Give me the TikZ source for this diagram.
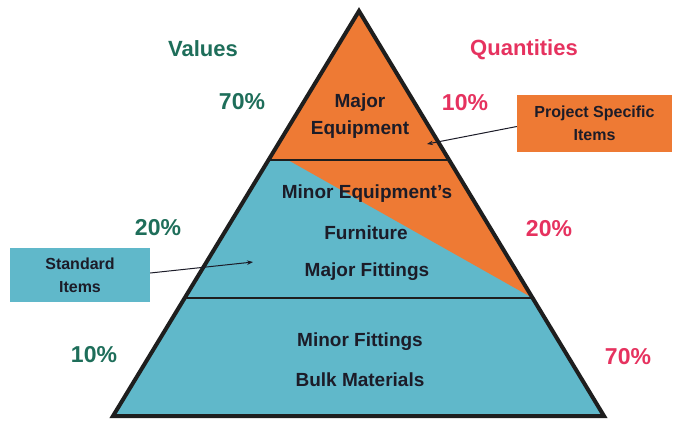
\documentclass[tikz,border=0pt]{standalone}
\usepackage{fontspec}
\setmainfont{Liberation Sans}
\usetikzlibrary{calc,arrows.meta}
\definecolor{orng}{RGB}{238,122,52}
\definecolor{tealb}{RGB}{96,184,202}
\definecolor{valgreen}{RGB}{30,110,90}
\definecolor{qpink}{RGB}{230,50,95}
\definecolor{edgec}{RGB}{30,30,30}
\definecolor{txtc}{RGB}{28,28,40}
\begin{document}
\begin{tikzpicture}[x=1pt,y=-1pt,
  pyr/.style={inner sep=0pt, text=txtc, font=\fontsize{19}{22}\selectfont\bfseries},
  vlab/.style={inner sep=0pt, text=valgreen, font=\fontsize{22}{26}\selectfont\bfseries},
  qlab/.style={inner sep=0pt, text=qpink, font=\fontsize{22}{26}\selectfont\bfseries},
  pct/.style={inner sep=0pt, font=\fontsize{23}{26}\selectfont\bfseries},
  tagbox/.style={inner sep=0pt, align=center, text=txtc, font=\fontsize{16}{23}\selectfont\bfseries},
  conn/.style={draw=txtc, line width=1pt, -{Stealth[length=6pt,width=4.5pt]}}]
\useasboundingbox (0,0) rectangle (674,424);
\fill[white] (0,0) rectangle (674,424);
% pyramid geometry
\coordinate (A) at (359,11);
\coordinate (BL) at (113,416);
\coordinate (BR) at (604,416);
\coordinate (L1) at ($(A)!0.3679!(BL)$);
\coordinate (R1) at ($(A)!0.3679!(BR)$);
\coordinate (L2) at ($(A)!0.7086!(BL)$);
\coordinate (R2) at ($(A)!0.7086!(BR)$);
\coordinate (D1) at (288,160);
\fill[tealb] (A) -- (BL) -- (BR) -- cycle;
\fill[orng] (A) -- (L1) -- (D1) -- (R2) -- cycle;
\draw[edgec, line width=2pt] (L1) -- (R1);
\draw[edgec, line width=2pt] (L2) -- (R2);
\draw[edgec, line width=4pt, line join=miter] (A) -- (BL) -- (BR) -- cycle;
% pyramid texts
\node[pyr] (t1) at (360,103) {Major};
\node[pyr] (t2) at (360,130) {Equipment};
\node[pyr] (t3) at (367,194) {Minor Equipment's};
\node[pyr] (t4) at (366,233) {Furniture};
\node[pyr] (t5) at (367,272) {Major Fittings};
\node[pyr] (t6) at (360,342) {Minor Fittings};
\node[pyr] (t7) at (360,380) {Bulk Materials};
% side labels
\node[vlab] (val) at (203,49) {Values};
\node[qlab] (qty) at (524,50) {Quantities};
\node[pct, text=valgreen] (v1) at (242,102) {70\%};
\node[pct, text=valgreen] (v2) at (158,228) {20\%};
\node[pct, text=valgreen] (v3) at (94,355) {10\%};
\node[pct, text=qpink] (q1) at (465,103) {10\%};
\node[pct, text=qpink] (q2) at (549,229) {20\%};
\node[pct, text=qpink] (q3) at (628,357) {70\%};
% tag boxes
\node[tagbox, fill=orng, minimum width=155pt, minimum height=57pt] (ps) at (594.5,123.5) {Project Specific\\Items};
\node[tagbox, fill=tealb, minimum width=140pt, minimum height=54pt] (si) at (80,275) {Standard\\Items};
\coordinate (pe) at (427,144);
\coordinate (se) at (253,262);
\draw[conn] ($(ps.west)+(0,3)$) -- (pe);
\draw[conn] ($(si.east)+(0,-2)$) -- (se);
\end{tikzpicture}
\end{document}
